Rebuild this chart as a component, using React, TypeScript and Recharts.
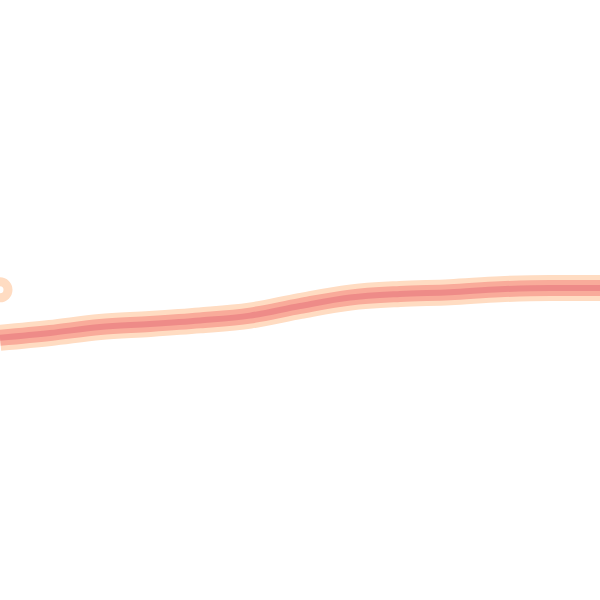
import React from "react";
import { LineChart, Line, XAxis, YAxis, ReferenceDot } from "recharts";

const steps = ["0", "1", "2", "3", "4", "5", "6", "7", "8", "9", "10", "11", "12"];
const trend = [43.7, 44.5, 45.5, 46.0, 46.6, 47.4, 49.0, 50.4, 51.0, 51.3, 51.8, 52.0, 52.0];
const markerValue = 51.7;

const data = steps.map((step, i) => ({ step, trend: trend[i] }));

export default function App() {
  return (
    <div style={{ position: "absolute", left: 0, top: 0, width: 600, height: 600, background: "#ffffff" }}>
      <LineChart width={600} height={600} data={data} margin={{ top: 0, right: 0, bottom: 0, left: 0 }}>
        <XAxis dataKey="step" hide />
        <YAxis hide domain={[0, 100]} />
        <Line
          type="monotone"
          dataKey="trend"
          stroke="#ffdcc2"
          strokeWidth={26}
          dot={false}
          activeDot={false}
          isAnimationActive={false}
        />
        <Line
          type="monotone"
          dataKey="trend"
          stroke="#f9ab9a"
          strokeWidth={16}
          dot={false}
          activeDot={false}
          isAnimationActive={false}
        />
        <Line
          type="monotone"
          dataKey="trend"
          stroke="#ee8b88"
          strokeWidth={6}
          dot={false}
          activeDot={false}
          isAnimationActive={false}
        />
        <ReferenceDot
          x={steps[0]}
          y={markerValue}
          r={8}
          fill="#ffffff"
          stroke="#ffdcc2"
          strokeWidth={9}
        />
      </LineChart>
    </div>
  );
}
